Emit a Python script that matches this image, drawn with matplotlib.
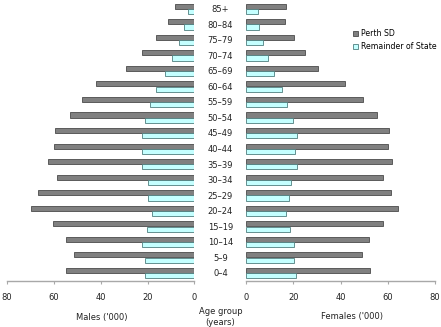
import matplotlib.pyplot as plt
from matplotlib.patches import Patch
from matplotlib.transforms import blended_transform_factory

# age groups, youngest first
ages = ['0–4', '5–9', '10–14', '15–19', '20–24', '25–29', '30–34', '35–39',
        '40–44', '45–49', '50–54', '55–59', '60–64', '65–69', '70–74',
        '75–79', '80–84', '85+']

# '000 persons
males_perth = [55.0, 51.3, 54.7, 60.3, 69.6, 67.0, 58.8, 62.7, 60.0, 59.7,
               53.3, 48.2, 42.0, 29.4, 22.2, 16.6, 11.5, 8.2]
males_rest = [21.3, 21.3, 22.2, 20.2, 18.2, 19.9, 19.9, 22.4, 22.3, 22.4,
              21.3, 19.0, 16.6, 12.4, 9.4, 6.8, 4.3, 2.8]
females_perth = [52.5, 48.9, 52.0, 57.8, 64.3, 61.3, 57.9, 61.7, 59.9, 60.5,
                 55.4, 49.6, 41.7, 30.2, 24.7, 20.1, 16.3, 17.0]
females_rest = [20.9, 20.1, 20.1, 18.4, 16.7, 18.2, 18.8, 21.3, 20.8, 21.3,
                19.7, 17.4, 15.0, 11.7, 9.1, 6.9, 5.2, 4.8]

xticks = [0, 20, 40, 60, 80]


def main():
    plt.rcParams['font.family'] = ['DejaVu Sans']
    fig = plt.figure(figsize=(4.41, 3.27), dpi=100)
    bottom, top = 0.141, 0.997
    ax_m = fig.add_axes([0.016, bottom, 0.425, top - bottom])
    ax_f = fig.add_axes([0.5585, bottom, 0.428, top - bottom])

    perth_c, perth_e = '#808080', '#4a4a4a'
    rest_c, rest_e = '#c4ffff', '#4f7f7f'
    h = 0.33
    y = list(range(len(ages)))
    y_up = [v + 0.17 for v in y]
    y_dn = [v - 0.17 for v in y]

    ax_m.barh(y_up, males_perth, height=h, color=perth_c, edgecolor=perth_e, linewidth=0.6)
    ax_m.barh(y_dn, males_rest, height=h, color=rest_c, edgecolor=rest_e, linewidth=0.6)
    ax_f.barh(y_up, females_perth, height=h, color=perth_c, edgecolor=perth_e, linewidth=0.6)
    ax_f.barh(y_dn, females_rest, height=h, color=rest_c, edgecolor=rest_e, linewidth=0.6)

    for ax in (ax_m, ax_f):
        ax.set_xlim(0, 80)
        ax.set_ylim(-0.5, len(ages) - 0.5)
        ax.set_xticks(xticks)
        ax.set_yticks([])
        for s in ('top', 'left', 'right'):
            ax.spines[s].set_visible(False)
        ax.spines['bottom'].set_color('#a8a8a8')
        ax.spines['bottom'].set_linewidth(1.0)
        ax.tick_params(axis='x', direction='out', length=2.5, color='#a8a8a8',
                       labelsize=6, labelcolor='#222222', pad=6.5)
    ax_m.invert_xaxis()

    trans = blended_transform_factory(fig.transFigure, ax_m.transData)
    for i, lab in enumerate(ages):
        ax_m.text(0.5, i - 0.05, lab, transform=trans, ha='center', va='center',
                  fontsize=6, color='#222222', clip_on=False)

    fig.text(0.5, 0.031, 'Age group\n(years)', ha='center', va='center',
             fontsize=6, color='#222222', linespacing=1.3)
    fig.text(0.172, 0.028, "Males ('000)", ha='left', va='center',
             fontsize=6, color='#222222')
    fig.text(0.799, 0.031, "Females ('000)", ha='center', va='center',
             fontsize=6, color='#222222')

    handles = [Patch(facecolor=perth_c, edgecolor=perth_e, linewidth=0.6),
               Patch(facecolor=rest_c, edgecolor=rest_e, linewidth=0.6)]
    fig.legend(handles, ['Perth SD', 'Remainder of State'], loc='upper left',
               bbox_to_anchor=(0.800, 0.91), frameon=False, fontsize=5.6,
               handlelength=0.7, handleheight=0.7, handletextpad=0.3,
               labelspacing=0.5, borderaxespad=0, borderpad=0)

    fig.savefig('out.png', dpi=100)
    plt.close(fig)


if __name__ == '__main__':
    main()
